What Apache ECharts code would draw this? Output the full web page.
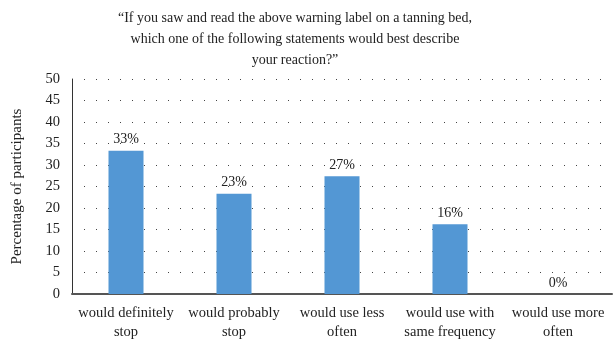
<!DOCTYPE html>
<html>
<head>
<meta charset="utf-8">
<script src="https://cdn.jsdelivr.net/npm/echarts@6/dist/echarts.min.js"></script>
<style>
html, body { margin: 0; padding: 0; background: #fff; }
#chart { width: 613px; height: 342px; }
</style>
</head>
<body>
<div id="chart"></div>
<script>
const categories = [
    'would definitely\nstop',
    'would probably\nstop',
    'would use less\noften',
    'would use with\nsame frequency',
    'would use more\noften'
]
const percentages = [33.3, 23.3, 27.4, 16.2, 0]
const yTicks = [0, 5, 10, 15, 20, 25, 30, 35, 40, 45, 50]

const titleText = '\u201cIf you saw and read the above warning label on a tanning bed,\nwhich one of the following statements would best describe\nyour reaction?\u201d'
const serif = '"Liberation Serif", "DejaVu Serif", serif'

const chart = echarts.init(document.getElementById('chart'))

chart.setOption({
    animation: false,
    title: {
        text: titleText,
        left: 290,
        top: 3,
        textAlign: 'center',
        textStyle: {
            fontFamily: serif,
            fontSize: 14,
            fontWeight: 'normal',
            color: '#222',
            lineHeight: 21
        }
    },
    grid: {
        left: 72,
        right: 1,
        top: 79,
        bottom: 44
    },
    xAxis: {
        type: 'category',
        data: categories,
        axisLine: { lineStyle: { color: '#555', width: 2 } },
        axisTick: { show: false },
        axisLabel: {
            interval: 0,
            fontFamily: serif,
            fontSize: 14.5,
            color: '#222',
            lineHeight: 19,
            margin: 10
        }
    },
    yAxis: {
        type: 'value',
        min: yTicks[0],
        max: yTicks[yTicks.length - 1],
        interval: 5,
        name: 'Percentage of participants',
        nameLocation: 'middle',
        nameGap: 47,
        nameTextStyle: {
            fontFamily: serif,
            fontSize: 15,
            color: '#222'
        },
        axisLine: { show: true, lineStyle: { color: '#333', width: 1 } },
        axisTick: { show: false },
        axisLabel: {
            fontFamily: serif,
            fontSize: 14.5,
            color: '#222',
            margin: 12
        },
        splitLine: {
            lineStyle: { color: '#444', type: [1, 11], width: 1 }
        }
    },
    series: [{
        type: 'bar',
        data: percentages,
        barWidth: 35,
        itemStyle: { color: '#5397d4' },
        label: {
            show: true,
            position: 'top',
            distance: 4,
            fontFamily: serif,
            fontSize: 14,
            color: '#222',
            formatter: p => Math.round(p.value) + '%'
        }
    }]
})
</script>
</body>
</html>
